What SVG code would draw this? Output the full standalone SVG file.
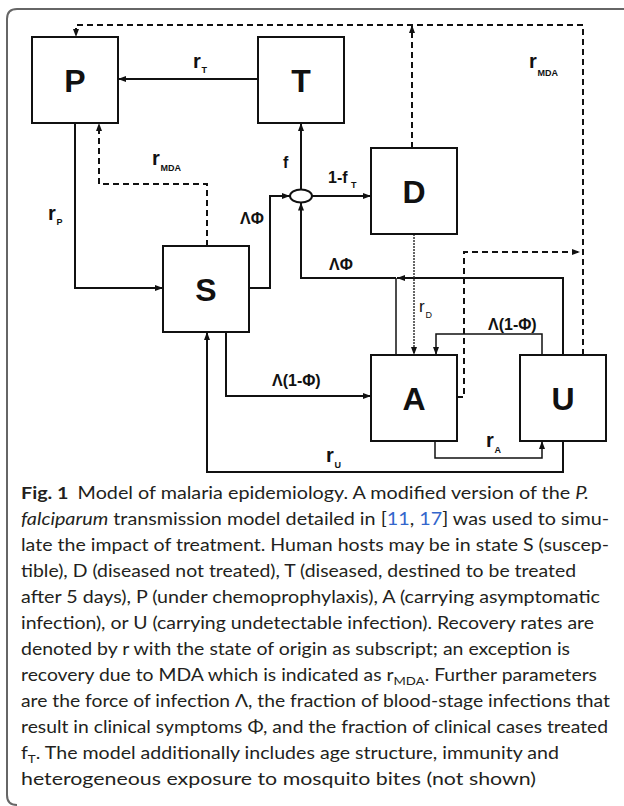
<svg xmlns="http://www.w3.org/2000/svg" width="624" height="806" viewBox="0 0 624 806">
<style>
.box{fill:#fff;stroke:#111;stroke-width:2}
.big{font-family:"Liberation Sans",Arial,sans-serif;font-weight:bold;font-size:32px;fill:#111;text-anchor:middle}
.c{fill:none;stroke:#111;stroke-width:2}
.thin{fill:none;stroke:#111;stroke-width:1.5}
.dash{fill:none;stroke:#111;stroke-width:2;stroke-dasharray:6 4}
.dot{fill:none;stroke:#333;stroke-width:1.5;stroke-dasharray:2 1}
.lbl{font-family:"Liberation Sans",Arial,sans-serif;font-weight:bold;font-size:16px;fill:#111}
.r{font-family:"Liberation Sans",Arial,sans-serif;font-weight:bold;font-size:20px;fill:#111}
.sub{font-family:"Liberation Sans",Arial,sans-serif;font-weight:bold;font-size:9px;fill:#111}
.cap{font-family:Lato,"Noto Sans",sans-serif;font-size:17.5px;fill:#231f20}
.cite{fill:#3366cc}
</style>
<defs>
<marker id="ah" markerWidth="8" markerHeight="6" refX="8" refY="3" orient="auto" markerUnits="userSpaceOnUse">
<path d="M0,0 L8,3 L0,6 z" fill="#111"/>
</marker>
</defs>
<path d="M624,9 H17 Q7,9 7,19 V795 Q7,805 17,805" fill="none" stroke="#666" stroke-width="2"/>
<g id="connectors">
<path class="c" d="M258,79 H118" marker-end="url(#ah)"/>
<path class="c" d="M75,123 V288 H163" marker-end="url(#ah)"/>
<path class="dash" d="M207,246 V184 H99 V123" marker-end="url(#ah)"/>
<path class="c" d="M249,288 H270 V196 H290" marker-end="url(#ah)"/>
<path class="c" d="M301,189.5 V123" marker-end="url(#ah)"/>
<path class="c" d="M312,196 H371" marker-end="url(#ah)"/>
<path class="c" d="M563,355 V278 H397" marker-end="url(#ah)"/>
<path class="thin" d="M396,355 V278"/>
<path class="c" d="M396,278 H301 V202.5" marker-end="url(#ah)"/>
<path class="dot" d="M414,234 V355" marker-end="url(#ah)"/>
<path class="thin" d="M542,355 V334 H436 V355" marker-end="url(#ah)"/>
<path class="dash" d="M457,397 H464 V252 H580" marker-end="url(#ah)"/>
<path class="dash" d="M583,355 V25 H76 V37" marker-end="url(#ah)"/>
<path class="dash" d="M412,148 V25" marker-end="url(#ah)"/>
<path class="c" d="M563,441 V472 H207 V332" marker-end="url(#ah)"/>
<path class="thin" d="M435,441 V458 H542 V441" marker-end="url(#ah)"/>
<path class="c" d="M226,332 V396 H371" marker-end="url(#ah)"/>
<ellipse cx="301" cy="196" rx="11" ry="6.5" fill="#fff" stroke="#111" stroke-width="2"/>
</g>
<g id="labels">
<text class="r" x="193" y="68">r</text><text class="sub" x="201.5" y="73">T</text>
<text class="r" x="152" y="165">r</text><text class="sub" x="160.5" y="171">MDA</text>
<text class="r" x="48" y="220">r</text><text class="sub" x="56.5" y="225">P</text>
<text class="lbl" x="283" y="168">f</text>
<text class="lbl" x="240" y="224">ΛΦ</text>
<text class="lbl" x="328" y="183">1-f</text><text class="sub" x="351" y="188">T</text>
<text class="r" x="529" y="68">r</text><text class="sub" x="537.5" y="76">MDA</text>
<text class="lbl" x="329" y="270">ΛΦ</text>
<text x="419" y="312" font-family="Liberation Sans,Arial,sans-serif" font-size="17" fill="#111">r</text><text x="425.5" y="318" font-family="Liberation Sans,Arial,sans-serif" font-size="9" fill="#111">D</text>
<text class="lbl" x="488" y="330">Λ(1-Φ)</text>
<text class="lbl" x="272" y="386">Λ(1-Φ)</text>
<text class="r" x="326" y="462">r</text><text class="sub" x="334.5" y="468">U</text>
<text class="r" x="486" y="447">r</text><text class="sub" x="494.5" y="453">A</text>
</g>
<g id="P"><rect class="box" x="32" y="37" width="86" height="86"/><text class="big" x="75" y="92">P</text></g>
<g id="T"><rect class="box" x="258" y="37" width="86" height="86"/><text class="big" x="301" y="92">T</text></g>
<g id="D"><rect class="box" x="371" y="148" width="86" height="86"/><text class="big" x="414" y="203">D</text></g>
<g id="S"><rect class="box" x="163" y="246" width="86" height="86"/><text class="big" x="206" y="301">S</text></g>
<g id="A"><rect class="box" x="371" y="355" width="86" height="86"/><text class="big" x="414" y="410">A</text></g>
<g id="U"><rect class="box" x="520" y="355" width="86" height="86"/><text class="big" x="563" y="410">U</text></g>
<g id="caption" class="cap">
<text x="21" y="499" textLength="568" lengthAdjust="spacingAndGlyphs"><tspan font-weight="bold">Fig. 1</tspan><tspan dx="8">Model of malaria epidemiology. A modified version of the </tspan><tspan font-style="italic">P.</tspan></text>
<text x="21" y="525" textLength="588" lengthAdjust="spacingAndGlyphs"><tspan font-style="italic">falciparum</tspan> transmission model detailed in [<tspan class="cite">11</tspan>, <tspan class="cite">17</tspan>] was used to simu-</text>
<text x="21" y="551" textLength="588" lengthAdjust="spacingAndGlyphs">late the impact of treatment. Human hosts may be in state S (suscep-</text>
<text x="21" y="577" textLength="555" lengthAdjust="spacingAndGlyphs">tible), D (diseased not treated), T (diseased, destined to be treated</text>
<text x="21" y="603" textLength="579" lengthAdjust="spacingAndGlyphs">after 5 days), P (under chemoprophylaxis), A (carrying asymptomatic</text>
<text x="21" y="629" textLength="573" lengthAdjust="spacingAndGlyphs">infection), or U (carrying undetectable infection). Recovery rates are</text>
<text x="21" y="655" textLength="549" lengthAdjust="spacingAndGlyphs">denoted by r with the state of origin as subscript; an exception is</text>
<text x="21" y="681" textLength="576" lengthAdjust="spacingAndGlyphs">recovery due to MDA which is indicated as r<tspan font-size="12" dy="4">MDA</tspan><tspan dy="-4">. Further parameters</tspan></text>
<text x="21" y="707" textLength="589" lengthAdjust="spacingAndGlyphs">are the force of infection Λ, the fraction of blood-stage infections that</text>
<text x="21" y="733" textLength="587" lengthAdjust="spacingAndGlyphs">result in clinical symptoms Φ, and the fraction of clinical cases treated</text>
<text x="21" y="759" textLength="538" lengthAdjust="spacingAndGlyphs">f<tspan font-size="12" dy="4">T</tspan><tspan dy="-4">. The model additionally includes age structure, immunity and</tspan></text>
<text x="21" y="785" textLength="515" lengthAdjust="spacingAndGlyphs">heterogeneous exposure to mosquito bites (not shown)</text>
</g>
</svg>
